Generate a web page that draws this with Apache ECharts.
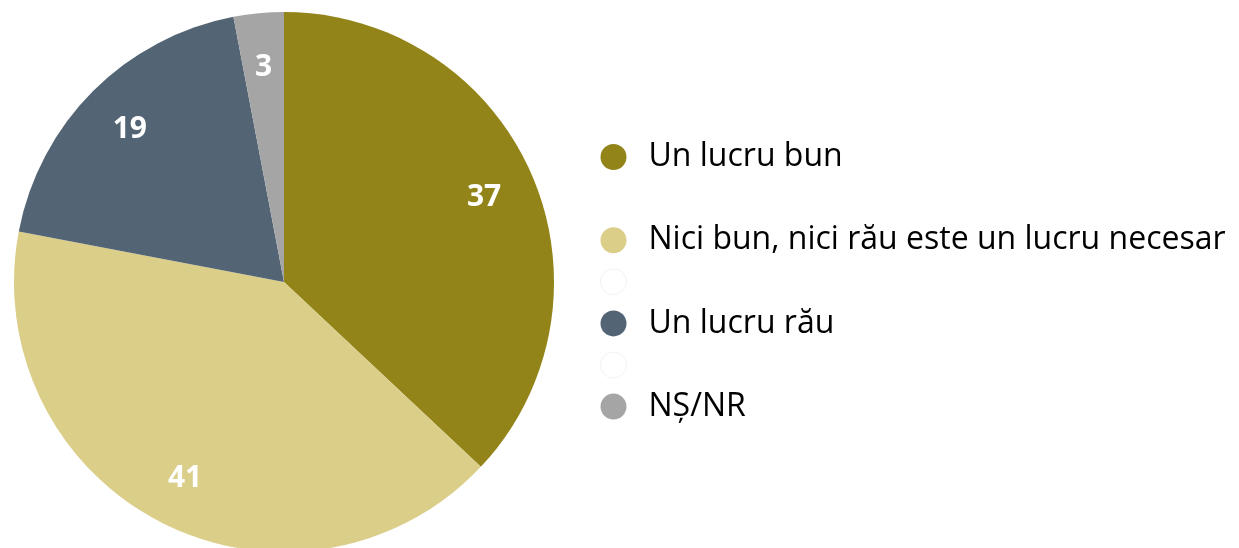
<!DOCTYPE html>
<html>
<head>
<meta charset="utf-8">
<script src="https://cdn.jsdelivr.net/npm/echarts@6/dist/echarts.min.js"></script>
<style>
html,body{margin:0;padding:0;background:#fff;}
#chart{width:1239px;height:548px;}
</style>
</head>
<body>
<div id="chart"></div>
<script>
const categories = ['Un lucru bun', '\u00a0', 'Nici bun, nici rău este un lucru necesar', ' ', 'Un lucru rău', '  ', 'NȘ/NR'];
const values = [37, 0, 41, 0, 19, 0, 3];
const colors = ['#93841A', '#FFFFFF', '#DACE89', '#FFFFFF', '#536475', '#FFFFFF', '#A5A5A5'];
const blankBorders = ['none', '#FFFFFF', 'none', '#F2F2F2', 'none', '#F2F2F2', 'none'];

const chart = echarts.init(document.getElementById('chart'));
const pieData = categories.map((c, i) => ({ name: c, value: values[i], itemStyle: { color: colors[i] } }));
const labelData = categories.map((c, i) => ({ name: c, value: values[i], itemStyle: { color: 'rgba(0,0,0,0)' }, label: { show: values[i] > 0 } }));

chart.setOption({
  animation: false,
  legend: {
    orient: 'vertical',
    left: 600,
    top: 141,
    padding: 0,
    icon: 'circle',
    itemWidth: 26,
    itemHeight: 26,
    itemGap: 9.6,
    selectedMode: false,
    textStyle: { fontFamily: 'Open Sans', fontSize: 32, color: '#000', padding: [0, 0, 0, 17] },
    data: categories.map((c, i) => ({
      name: c,
      itemStyle: values[i] > 0 ? { color: colors[i] } : { color: '#fff', borderColor: blankBorders[i], borderWidth: 1 }
    }))
  },
  series: [
    {
      type: 'pie',
      center: [284, 282],
      radius: 270,
      startAngle: 90,
      clockwise: true,
      silent: true,
      label: { show: false },
      labelLine: { show: false },
      itemStyle: { borderWidth: 0 },
      data: pieData
    },
    {
      type: 'pie',
      center: [284, 284],
      radius: [160, 270],
      startAngle: 90,
      clockwise: true,
      silent: true,
      label: {
        show: true,
        position: 'inside',
        formatter: '{c}',
        color: '#fff',
        fontFamily: 'Open Sans',
        fontWeight: 'bold',
        fontSize: 30
      },
      labelLine: { show: false },
      itemStyle: { borderWidth: 0 },
      data: labelData
    }
  ]
});
</script>
</body>
</html>
